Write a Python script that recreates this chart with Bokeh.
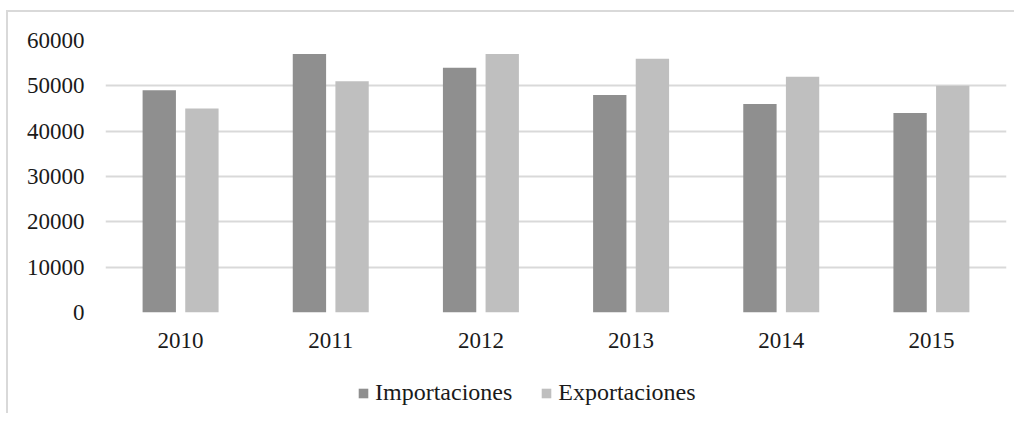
from bokeh.plotting import figure
from bokeh.layouts import column
from bokeh.models import ColumnDataSource, FactorRange, Range1d, Legend, LegendItem, SingleIntervalTicker
from bokeh.transform import dodge
from bokeh.embed import file_html
from bokeh.resources import INLINE

years = ["2010", "2011", "2012", "2013", "2014", "2015"]
importaciones = [49000, 57000, 54000, 48000, 46000, 44000]
exportaciones = [45000, 51000, 57000, 56000, 52000, 50000]
series_names = ["Importaciones", "Exportaciones"]
series_colors = ["#8f8f8f", "#bfbfbf"]

src = ColumnDataSource(dict(year=years, imp=importaciones, exp=exportaciones))

FONT = "Liberation Serif"
TXT = "#1a1a1a"

p = figure(width=1008, height=348, x_range=FactorRange(*years, range_padding=0),
           y_range=Range1d(0, 60000), output_backend="svg", toolbar_location=None,
           min_border_left=97, min_border_right=10, min_border_top=28, min_border_bottom=48)
p.outline_line_color = None

r1 = p.vbar(x=dodge("year", -0.142, range=p.x_range), top="imp", width=0.222, source=src,
            fill_color=series_colors[0], line_color=None)
r2 = p.vbar(x=dodge("year", 0.142, range=p.x_range), top="exp", width=0.222, source=src,
            fill_color=series_colors[1], line_color=None)

p.yaxis.ticker = SingleIntervalTicker(interval=10000)
p.ygrid.ticker = SingleIntervalTicker(interval=10000)
p.ygrid.grid_line_color = "#d9d9d9"
p.ygrid.grid_line_width = 2
p.xgrid.grid_line_color = None

for ax in (p.xaxis[0], p.yaxis[0]):
    ax.axis_line_color = None
    ax.major_tick_line_color = None
    ax.minor_tick_line_color = None
    ax.major_tick_out = 0
    ax.major_tick_in = 0
    ax.minor_tick_out = 0
    ax.major_label_text_font = FONT
    ax.major_label_text_font_size = "23px"
    ax.major_label_text_color = TXT
p.yaxis.major_label_standoff = 21
p.xaxis.major_label_standoff = 20

# legend strip below the chart (its frame is aligned with the main frame by the column)
p2 = figure(width=1008, height=55, x_range=Range1d(0, 1), y_range=Range1d(0, 1),
            output_backend="svg", toolbar_location=None, min_border=0)
p2.axis.visible = False
p2.grid.grid_line_color = None
p2.outline_line_color = None
# zero-height proxy glyphs, only used for the legend swatches
d1 = p2.vbar(x=[0.5], top=[0], bottom=[0], width=0.0, fill_color=series_colors[0], line_color=None)
d2 = p2.vbar(x=[0.5], top=[0], bottom=[0], width=0.0, fill_color=series_colors[1], line_color=None)

legend = Legend(items=[LegendItem(label=series_names[0], renderers=[d1]),
                       LegendItem(label=series_names[1], renderers=[d2])],
                orientation="horizontal", location=(252, 9),
                label_text_font=FONT, label_text_font_size="24px", label_text_color=TXT,
                glyph_width=12, glyph_height=12, label_standoff=6, spacing=28,
                border_line_color=None, background_fill_alpha=0, margin=0, padding=0)
p2.add_layout(legend, "center")

layout = column(p, p2, spacing=0)
layout.margin = (12, 0, 0, 8)
layout.styles = {"box-shadow": "-2px -2px 0 0 #d9d9d9"}

open("out.html", "w").write(file_html(layout, INLINE))
